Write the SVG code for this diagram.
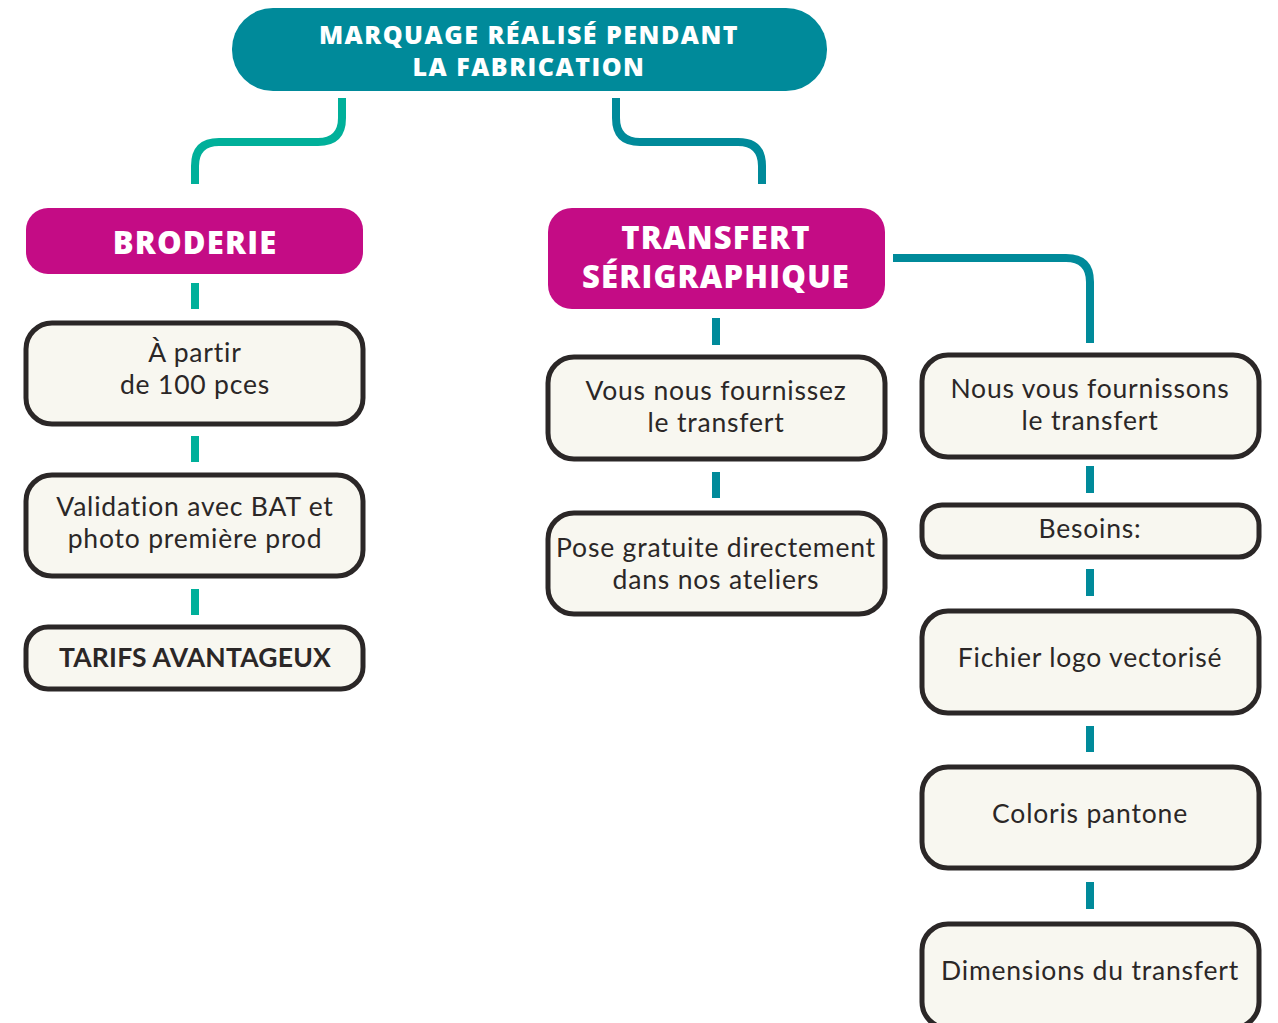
<svg xmlns="http://www.w3.org/2000/svg" width="1278" height="1023" viewBox="0 0 1278 1023">
<style>
.box{fill:#F8F7F0;stroke:#2B2727;stroke-width:5}
.head{fill:#C40C85}
.t{font-family:Lato,"Open Sans",sans-serif;font-size:26.5px;fill:#2B2727;text-anchor:middle;letter-spacing:0.8px}
.tb{font-family:Lato,"Open Sans",sans-serif;font-size:26.5px;font-weight:bold;fill:#2B2727;text-anchor:middle;letter-spacing:0.2px}
.h{font-family:"Open Sans",Lato,sans-serif;font-weight:800;font-size:31px;fill:#fff;text-anchor:middle;letter-spacing:1.2px}
.top{font-family:"Open Sans",Lato,sans-serif;font-weight:800;font-size:25px;fill:#fff;text-anchor:middle;letter-spacing:1.5px}
.cg{stroke:#00B09A;stroke-width:8;fill:none}
.ct{stroke:#008A9A;stroke-width:8;fill:none}
</style>
<rect width="1278" height="1023" fill="#fff"/>
<g id="connectors">
<path class="cg" d="M342 98 V118 Q342 142 318 142 H219 Q195 142 195 166 V184"/>
<path class="ct" d="M616 98 V118 Q616 142 640 142 H738 Q762 142 762 166 V184"/>
<path class="ct" d="M893 258 H1066 Q1090 258 1090 282 V343"/>
<path class="cg" d="M195 283 V309 M195 436 V462 M195 589 V615"/>
<path class="ct" d="M716 318 V345 M716 472 V498"/>
<path class="ct" d="M1090 466 V493 M1090 569 V596 M1090 726 V752 M1090 882 V909"/>
</g>
<g id="n-top">
<rect x="232" y="8" width="595" height="83" rx="41" fill="#008A9A"/>
<text class="top" x="529" y="44">MARQUAGE RÉALISÉ PENDANT</text>
<text class="top" x="529" y="76">LA FABRICATION</text>
</g>
<g id="n-broderie">
<rect class="head" x="26" y="208" width="337" height="66" rx="22"/>
<text class="h" x="195" y="254">BRODERIE</text>
</g>
<g id="n-partir">
<rect class="box" x="26" y="323" width="337" height="101" rx="26"/>
<text class="t" x="195" y="362">À partir</text>
<text class="t" x="195" y="394">de 100 pces</text>
</g>
<g id="n-validation">
<rect class="box" x="26" y="475" width="337" height="101" rx="26"/>
<text class="t" x="195" y="516">Validation avec BAT et</text>
<text class="t" x="195" y="548">photo première prod</text>
</g>
<g id="n-tarifs">
<rect class="box" x="26" y="627" width="337" height="62" rx="22"/>
<text class="tb" x="195" y="667">TARIFS AVANTAGEUX</text>
</g>
<g id="n-transfert">
<rect class="head" x="548" y="208" width="337" height="101" rx="24"/>
<text class="h" x="716" y="249">TRANSFERT</text>
<text class="h" x="716" y="288">SÉRIGRAPHIQUE</text>
</g>
<g id="n-vous">
<rect class="box" x="548" y="357" width="337" height="102" rx="26"/>
<text class="t" x="716" y="400">Vous nous fournissez</text>
<text class="t" x="716" y="432">le transfert</text>
</g>
<g id="n-pose">
<rect class="box" x="548" y="513" width="337" height="101" rx="26"/>
<text class="t" x="716" y="557">Pose gratuite directement</text>
<text class="t" x="716" y="589">dans nos ateliers</text>
</g>
<g id="n-nous">
<rect class="box" x="922" y="355" width="337" height="102" rx="26"/>
<text class="t" x="1090" y="398">Nous vous fournissons</text>
<text class="t" x="1090" y="430">le transfert</text>
</g>
<g id="n-besoins">
<rect class="box" x="922" y="505" width="337" height="52" rx="20"/>
<text class="t" x="1090" y="538">Besoins:</text>
</g>
<g id="n-fichier">
<rect class="box" x="922" y="611" width="337" height="102" rx="26"/>
<text class="t" x="1090" y="667">Fichier logo vectorisé</text>
</g>
<g id="n-coloris">
<rect class="box" x="922" y="767" width="337" height="101" rx="26"/>
<text class="t" x="1090" y="823">Coloris pantone</text>
</g>
<g id="n-dimensions">
<rect class="box" x="922" y="924" width="337" height="104" rx="26"/>
<text class="t" x="1090" y="980">Dimensions du transfert</text>
</g>
</svg>
